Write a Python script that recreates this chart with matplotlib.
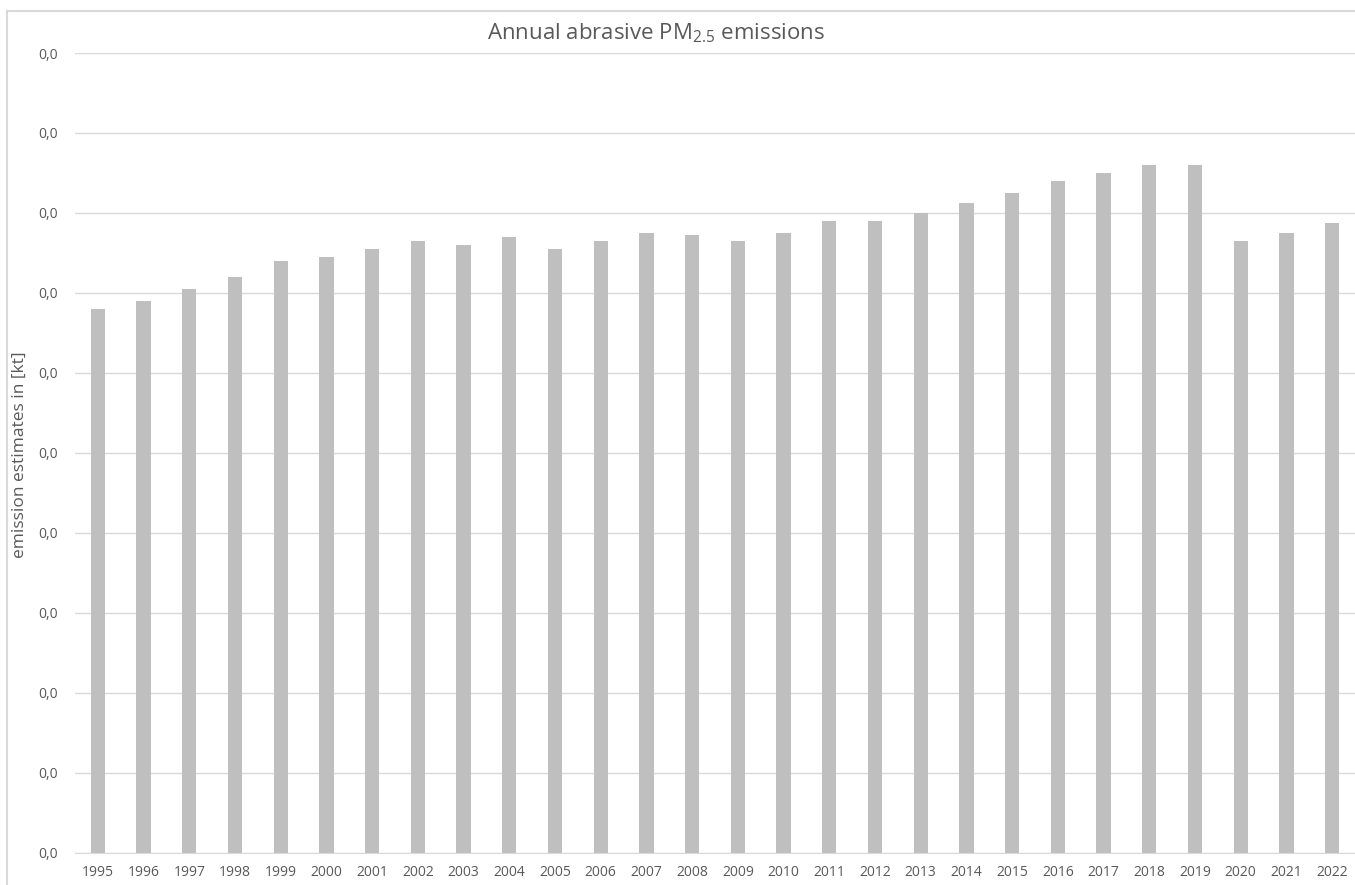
import matplotlib.pyplot as plt
from matplotlib.lines import Line2D
from matplotlib.ticker import FuncFormatter, MultipleLocator

# Annual abrasive PM2.5 emissions, kt
years = [str(y) for y in range(1995, 2023)]
emissions_kt = [
    0.0272, 0.0276, 0.0282, 0.0288, 0.0296, 0.0298, 0.0302, 0.0306,
    0.0304, 0.0308, 0.0302, 0.0306, 0.0310, 0.0309, 0.0306, 0.0310,
    0.0316, 0.0316, 0.0320, 0.0325, 0.0330, 0.0336, 0.0340, 0.0344,
    0.0344, 0.0306, 0.0310, 0.0315,
]
y_max = 0.04
y_step = 0.004

TEXT = "#595959"
GRID = "#d9d9d9"

plt.rcParams["font.family"] = ["Open Sans", "DejaVu Sans"]
plt.rcParams["mathtext.fontset"] = "custom"
plt.rcParams["mathtext.rm"] = "Open Sans"
plt.rcParams["mathtext.it"] = "Open Sans"

W, H = 1355, 885
fig = plt.figure(figsize=(W / 100, H / 100), dpi=100)
ax = fig.add_axes([75 / W, 1 - 853 / H, 1 - 75 / W, (853 - 53) / H])

x = list(range(len(years)))
ax.bar(x, emissions_kt, width=0.31, color="#bfbfbf", zorder=2)

ax.set_xlim(-0.5, len(years) - 0.5)
ax.set_ylim(0, y_max)
ax.yaxis.set_major_locator(MultipleLocator(y_step))
ax.yaxis.set_major_formatter(FuncFormatter(lambda v, _: f"{v:.1f}".replace(".", ",")))
ax.set_xticks(x)
ax.set_xticklabels(years)

ax.grid(axis="y", color=GRID, linewidth=1, zorder=0)
for side in ["top", "right", "left"]:
    ax.spines[side].set_visible(False)
ax.spines["bottom"].set_color(GRID)
ax.tick_params(axis="both", length=0, colors=TEXT)
ax.tick_params(axis="y", pad=12, labelsize=10)
ax.tick_params(axis="x", pad=9, labelsize=10)

fig.text(20 / W, 1 - 455 / H, "emission estimates in [kt]", rotation=90,
         ha="center", va="center", fontsize=12.5, color=TEXT)
fig.text(656 / W, 1 - 33 / H, "Annual abrasive PM$_{2.5}$ emissions",
         ha="center", va="center", fontsize=16, color=TEXT)

# chart frame (partly cropped)
fig.add_artist(Line2D([7 / W, 1], [1 - 11 / H, 1 - 11 / H], color=GRID, lw=1.5))
fig.add_artist(Line2D([7 / W, 7 / W], [0, 1 - 11 / H], color=GRID, lw=1.5))

fig.savefig("out.png", dpi=100)
